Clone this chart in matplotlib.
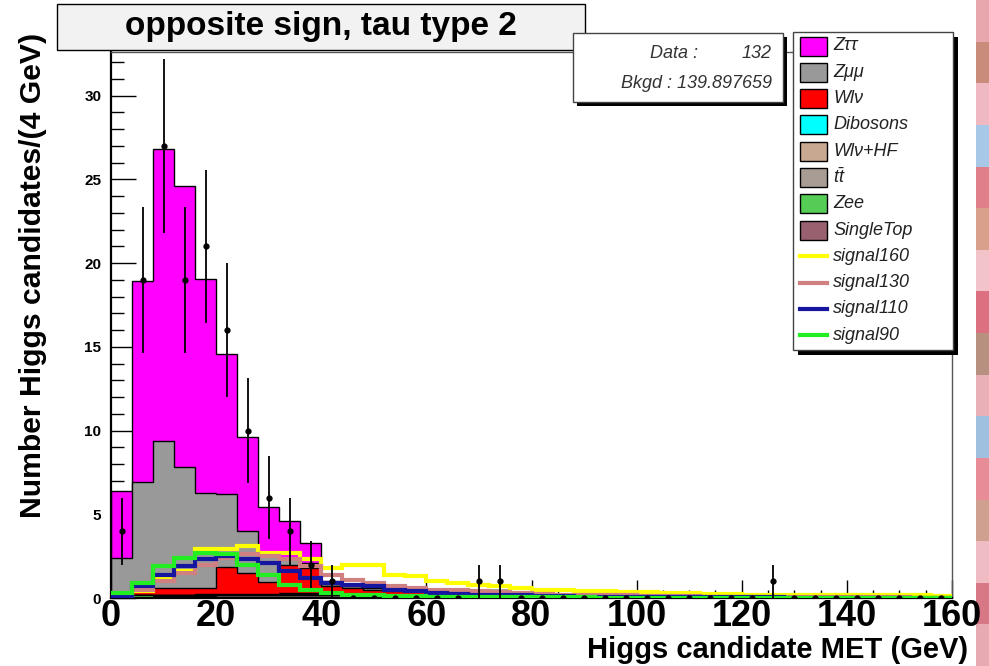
import numpy as np
import matplotlib
matplotlib.use('Agg')
import matplotlib.pyplot as plt
from matplotlib.patches import Rectangle
from matplotlib.lines import Line2D
from matplotlib.ticker import MultipleLocator

plt.rcParams['font.family'] = ['Liberation Sans', 'DejaVu Sans']
plt.rcParams['mathtext.fontset'] = 'custom'
plt.rcParams['mathtext.it'] = 'Liberation Sans:italic'
plt.rcParams['mathtext.rm'] = 'Liberation Sans'

# 4 GeV bins from 0 to 160 GeV
bin_edges = np.arange(0, 164, 4)

data_counts = [4, 19, 27, 19, 21, 16, 10, 6, 4, 2,
               1, 0, 0, 0, 0, 0, 0, 1, 1, 0,
               0, 0, 0, 0, 0, 0, 0, 0, 0, 0,
               0, 1, 0, 0, 0, 0, 0, 0, 0, 0]

# backgrounds, listed from the bottom of the stack upwards
single_top = [0, 0, 0.05, 0.05, 0.1, 0.05, 0.05, 0.05, 0.05, 0.05,
              0.03, 0.03, 0.02, 0.02, 0.02, 0.02, 0.02, 0.02, 0.02, 0.01,
              0, 0, 0, 0, 0, 0, 0, 0, 0, 0,
              0, 0, 0, 0, 0, 0, 0, 0, 0, 0]
zee = [0.3, 0.15, 0.05, 0.05, 0.05, 0, 0, 0, 0, 0,
       0, 0, 0, 0, 0, 0, 0, 0, 0, 0,
       0, 0, 0, 0, 0, 0, 0, 0, 0, 0,
       0, 0, 0, 0, 0, 0, 0, 0, 0, 0]
ttbar = [0, 0, 0.05, 0.05, 0.05, 0.1, 0.1, 0.1, 0.15, 0.15,
         0.15, 0.1, 0.1, 0.1, 0.1, 0.1, 0.1, 0.1, 0.1, 0.05,
         0.05, 0.05, 0.03, 0.03, 0.03, 0.02, 0.02, 0.02, 0.02, 0.02,
         0.01, 0.01, 0.01, 0.01, 0.01, 0.01, 0.01, 0.01, 0.01, 0.01]
wlv_hf = [0, 0, 0, 0, 0, 0.05, 0.05, 0.05, 0.05, 0.05,
          0.05, 0.05, 0.05, 0.05, 0.05, 0.1, 0.1, 0.1, 0.1, 0.05,
          0.03, 0.02, 0.02, 0.02, 0.02, 0.01, 0.01, 0.01, 0.01, 0.01,
          0, 0, 0, 0, 0, 0, 0, 0, 0, 0]
dibosons = [0, 0, 0, 0, 0.02, 0.03, 0.03, 0.03, 0.03, 0.03,
            0.02, 0.02, 0.02, 0.02, 0.02, 0.01, 0.01, 0.01, 0.01, 0.01,
            0, 0, 0, 0, 0, 0, 0, 0, 0, 0,
            0, 0, 0, 0, 0, 0, 0, 0, 0, 0]
wlv = [0, 0.45, 0.45, 0.45, 0.35, 1.6, 1.25, 0.75, 1.7, 1.5,
       0.45, 0.4, 0.3, 0.25, 0.2, 0.2, 0.2, 0.2, 0.2, 0.15,
       0.1, 0.05, 0.05, 0.05, 0.05, 0.03, 0.03, 0.03, 0.02, 0.02,
       0.02, 0.02, 0.01, 0.01, 0.01, 0.01, 0.01, 0.01, 0.01, 0.01]
zmumu = [2.1, 6.3, 8.8, 7.2, 5.7, 4.35, 2.55, 1.65, 0.4, 0.3,
         0.15, 0.1, 0.1, 0.05, 0.05, 0.05, 0.03, 0.03, 0.02, 0.02,
         0.01, 0.01, 0.01, 0.01, 0, 0, 0, 0, 0, 0,
         0, 0, 0, 0, 0, 0, 0, 0, 0, 0]
ztautau = [4.0, 12.0, 17.4, 16.8, 12.8, 8.4, 5.6, 2.8, 2.2, 1.2,
           0.15, 0.15, 0.15, 0.1, 0.05, 0.05, 0.03, 0.03, 0.02, 0.02,
           0.01, 0.01, 0, 0, 0, 0, 0, 0, 0, 0,
           0, 0, 0, 0, 0, 0, 0, 0, 0, 0]

signal160 = [0.1, 0.4, 1.2, 1.6, 2.9, 2.9, 3.1, 2.7, 2.7, 2.3,
             1.8, 2.0, 2.0, 1.4, 1.3, 1.0, 0.9, 0.8, 0.7, 0.6,
             0.5, 0.45, 0.4, 0.4, 0.35, 0.35, 0.3, 0.3, 0.25, 0.25,
             0.2, 0.2, 0.2, 0.2, 0.15, 0.15, 0.15, 0.15, 0.15, 0.1]
signal130 = [0.1, 0.5, 1.0, 1.5, 2.0, 2.4, 2.6, 2.5, 2.3, 1.9,
             1.4, 1.1, 0.9, 0.7, 0.6, 0.5, 0.45, 0.4, 0.35, 0.3,
             0.25, 0.2, 0.2, 0.15, 0.15, 0.1, 0.1, 0.1, 0.08, 0.08,
             0.06, 0.06, 0.05, 0.05, 0.04, 0.04, 0.03, 0.03, 0.02, 0.02]
signal110 = [0.1, 0.7, 1.4, 1.9, 2.3, 2.5, 2.3, 2.1, 1.6, 1.2,
             0.9, 0.8, 0.7, 0.5, 0.4, 0.3, 0.25, 0.2, 0.15, 0.15,
             0.1, 0.1, 0.08, 0.08, 0.06, 0.06, 0.05, 0.05, 0.04, 0.04,
             0.03, 0.03, 0.02, 0.02, 0.02, 0.02, 0.01, 0.01, 0.01, 0.01]
signal90 = [0.3, 0.9, 1.9, 2.4, 2.7, 2.6, 2.0, 1.4, 0.8, 0.5,
            0.3, 0.2, 0.15, 0.1, 0.1, 0.05, 0.05, 0.05, 0.04, 0.04,
            0.03, 0.03, 0.03, 0.02, 0.02, 0.02, 0.02, 0.02, 0.02, 0.02,
            0.01, 0.01, 0.01, 0.01, 0.01, 0.01, 0.01, 0.01, 0.01, 0.01]

n_data = 132
n_bkgd = 139.897659

backgrounds = [
    ('SingleTop', single_top, '#996070'),
    ('Zee', zee, '#55cc55'),
    (r'$t\bar{t}$', ttbar, '#a89c94'),
    ('Wlν+HF', wlv_hf, '#c8a890'),
    ('Dibosons', dibosons, '#00ffff'),
    ('Wlν', wlv, '#ff0000'),
    ('Zμμ', zmumu, '#999999'),
    ('Zττ', ztautau, '#ff00ff'),
]
signals = [
    ('signal160', signal160, '#ffff00'),
    ('signal130', signal130, '#d08080'),
    ('signal110', signal110, '#1515a0'),
    ('signal90', signal90, '#22ee22'),
]

# colour bands of the strip along the right edge
edge_strip = ['#e8a6ad', '#c98c7a', '#f0b8c0', '#a8c8e8', '#e07f8a', '#d9a08c',
              '#f2c4ca', '#dc7080', '#b89080', '#eab0b8', '#a0c0e0', '#e88c98',
              '#cfa08f', '#f0bcc4', '#d87886', '#e8aab2']

W, H = 989, 666


def fx(px):
    return px / W


def fy(py):
    return 1 - py / H


fig = plt.figure(figsize=(W / 100, H / 100), dpi=100)
fig.patch.set_facecolor('white')

# narrow coloured strip at the right edge of the canvas, behind everything
band_h = H / len(edge_strip)
for k, c in enumerate(edge_strip):
    fig.patches.append(Rectangle((fx(976), fy((k + 1) * band_h)), 13 / W, band_h / H,
                                 transform=fig.transFigure, facecolor=c,
                                 edgecolor='none', zorder=-1))

ax = fig.add_axes([fx(111), fy(598), (952 - 111) / W, (598 - 52) / H])
ax.patch.set_alpha(0)

# stacked backgrounds: draw the running totals, largest first
tops = np.cumsum([np.array(b[1]) for b in backgrounds], axis=0)
for (name, vals, color), top in reversed(list(zip(backgrounds, tops))):
    ax.stairs(top, bin_edges, baseline=0, fill=True, facecolor=color,
              edgecolor='black', linewidth=1, zorder=2)

for name, vals, color in signals:
    ax.stairs(vals, bin_edges, baseline=None, color=color, linewidth=3, zorder=3)

centers = 0.5 * (bin_edges[:-1] + bin_edges[1:])
counts = np.array(data_counts, dtype=float)
ax.errorbar(centers, counts, yerr=np.sqrt(counts), fmt='o', color='black',
            markersize=3.5, elinewidth=1.3, capsize=0, zorder=4)

ax.set_xlim(0, 160)
ax.set_ylim(0, 32.6)
ax.xaxis.set_major_locator(MultipleLocator(20))
ax.xaxis.set_minor_locator(MultipleLocator(5))
ax.yaxis.set_major_locator(MultipleLocator(5))
ax.yaxis.set_minor_locator(MultipleLocator(1))
ax.tick_params(which='both', direction='in', top=False, right=False, width=1)
ax.tick_params(axis='x', which='major', length=13, labelsize=26, pad=1)
ax.tick_params(axis='x', which='minor', length=6)
ax.tick_params(axis='y', which='major', length=18, labelsize=11, pad=7)
ax.tick_params(axis='y', which='minor', length=9)
for lbl in ax.get_xticklabels() + ax.get_yticklabels():
    lbl.set_fontweight('bold')
for s in ('left', 'bottom'):
    ax.spines[s].set_linewidth(1.6)
for s in ('top', 'right'):
    ax.spines[s].set_linewidth(1)
    ax.spines[s].set_color('#555555')

fig.text(fx(33), fy(33), 'Number Higgs candidates/(4 GeV)', rotation=90,
         ha='center', va='top', fontsize=21.7, fontweight='bold')
fig.text(fx(968), fy(650), 'Higgs candidate MET (GeV)', ha='right',
         va='center', fontsize=21, fontweight='bold')

# title box
fig.patches.append(Rectangle((fx(57), fy(50)), (585 - 57) / W, (50 - 4) / H,
                             transform=fig.transFigure, facecolor='#f2f2f2',
                             edgecolor='black', linewidth=1, zorder=5))
fig.text(fx(321), fy(27), 'opposite sign, tau type 2', ha='center', va='center',
         fontsize=24, fontweight='bold', zorder=6)

# stats box
fig.patches.append(Rectangle((fx(577), fy(106)), (783 - 573) / W, (102 - 33) / H,
                             transform=fig.transFigure, facecolor='black',
                             edgecolor='none', zorder=5))
fig.patches.append(Rectangle((fx(573), fy(102)), (783 - 573) / W, (102 - 33) / H,
                             transform=fig.transFigure, facecolor='white',
                             edgecolor='#444444', linewidth=1, zorder=5))
fig.text(fx(650), fy(54), 'Data :', ha='left', va='center', fontsize=13,
         fontstyle='italic', color='#333333', zorder=6)
fig.text(fx(772), fy(54), f'{n_data}', ha='right', va='center', fontsize=13,
         fontstyle='italic', color='#333333', zorder=6)
fig.text(fx(772), fy(83), f'Bkgd : {n_bkgd:.6f}', ha='right', va='center',
         fontsize=13, fontstyle='italic', color='#333333', zorder=6)

# legend box
fig.patches.append(Rectangle((fx(798), fy(355)), (953 - 793) / W, (350 - 32) / H,
                             transform=fig.transFigure, facecolor='black',
                             edgecolor='none', zorder=5))
fig.patches.append(Rectangle((fx(793), fy(350)), (953 - 793) / W, (350 - 32) / H,
                             transform=fig.transFigure, facecolor='white',
                             edgecolor='#444444', linewidth=1, zorder=5))
entries = [(n, c, 'box') for n, v, c in reversed(backgrounds)] + \
          [(n, c, 'line') for n, v, c in signals]
row_h = 26.3
for i, (name, color, kind) in enumerate(entries):
    yc = 46 + i * row_h
    if kind == 'box':
        fig.patches.append(Rectangle((fx(800), fy(yc + 9.5)), 27 / W, 19 / H,
                                     transform=fig.transFigure, facecolor=color,
                                     edgecolor='black', linewidth=1, zorder=6))
    else:
        fig.lines.append(Line2D([fx(800), fx(827)], [fy(yc), fy(yc)],
                                transform=fig.transFigure, color=color,
                                linewidth=3, zorder=6))
    fig.text(fx(833), fy(yc), name, ha='left', va='center', fontsize=13,
             fontstyle='italic', color='#222222', zorder=7)

fig.savefig('out.png', dpi=100)
